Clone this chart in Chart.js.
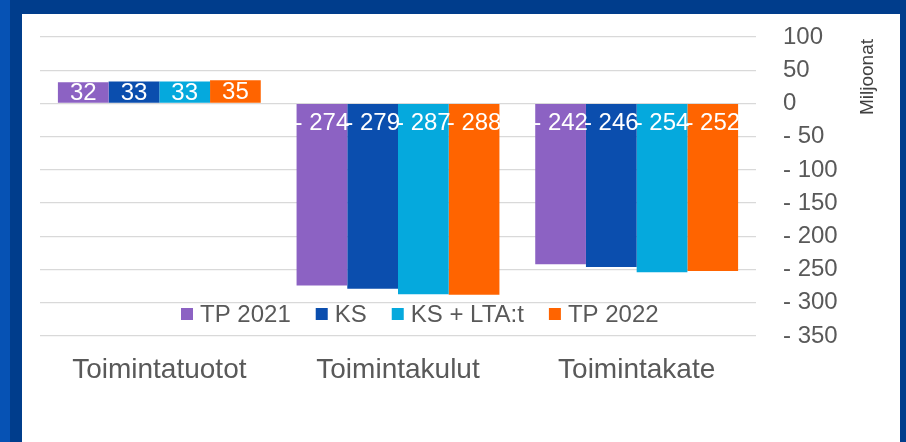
<!DOCTYPE html>
<html>
<head>
<meta charset="utf-8">
<script src="https://cdn.jsdelivr.net/npm/chart.js@4.4.0/dist/chart.umd.min.js"></script>
<style>
    body { margin: 0; width: 906px; height: 442px; background: #003d8c; position: relative; overflow: hidden; }
    #strip { position: absolute; left: 0; top: 0; width: 10px; height: 442px; background: #0652b4; }
    #panel { position: absolute; left: 22px; top: 14px; width: 878px; height: 428px; background: #ffffff; }
</style>
</head>
<body>
<div id="strip"></div>
<div id="panel"><canvas id="g_kate"></canvas></div>
<script>
// luokat ja sarjat
const categories = ['Toimintatuotot', 'Toimintakulut', 'Toimintakate'];
const seriesNames = ['TP 2021', 'KS', 'KS + LTA:t', 'TP 2022'];
const tp2021 = [32, -274, -242];
const ks = [33, -279, -246];
const ksLta = [33, -287, -254];
const tp2022 = [35, -288, -252];
const colors = ['#8c62c3', '#0b4eae', '#05a9dd', '#ff6400'];
const yTicks = { min: -350, max: 100, step: 50 };

function fmt(v) {
    // Excel tyyli: "- 274"
    return v < 0 ? '- ' + Math.abs(v) : '' + v;
}

const fontName = '"Liberation Sans", Arial, sans-serif';

// arvot palkkien sisään
const barLabels = {
    id: 'barLabels',
    afterDatasetsDraw(chart) {
        const ctx = chart.ctx;
        ctx.save();
        ctx.font = '24px ' + fontName;
        ctx.fillStyle = '#ffffff';
        ctx.textAlign = 'center';
        ctx.textBaseline = 'middle';
        chart.data.datasets.forEach(function(ds, i) {
            const meta = chart.getDatasetMeta(i);
            meta.data.forEach(function(bar, j) {
                const v = ds.data[j];
                let y;
                if (v < 0) {
                    y = bar.base + 19;
                } else {
                    y = (bar.y + bar.base) / 2 + 1;
                }
                ctx.fillText(fmt(v), bar.x, y);
            });
        });
        ctx.restore();
    }
};

// selite piirretään kaavion päälle
const overlayLegend = {
    id: 'overlayLegend',
    afterDraw(chart) {
        const ctx = chart.ctx;
        ctx.save();
        ctx.font = '24px ' + fontName;
        ctx.textBaseline = 'middle';
        ctx.textAlign = 'left';
        let x = 159;
        const y = 300;
        chart.data.datasets.forEach(function(ds) {
            ctx.fillStyle = ds.backgroundColor;
            ctx.fillRect(x, y - 6, 12, 12);
            x += 19;
            ctx.fillStyle = '#595959';
            ctx.fillText(ds.label, x, y + 1);
            x += ctx.measureText(ds.label).width + 25;
        });
        // akselin otsikko
        ctx.translate(846, 63);
        ctx.rotate(-Math.PI / 2);
        ctx.font = '19px ' + fontName;
        ctx.fillStyle = '#404040';
        ctx.textAlign = 'center';
        ctx.fillText('Miljoonat', 0, 0);
        ctx.restore();
    }
};

const seriesData = [tp2021, ks, ksLta, tp2022];
let datasets = [];
for (let i = 0; i < seriesNames.length; i++) {
    datasets.push({
        label: seriesNames[i],
        data: seriesData[i],
        backgroundColor: colors[i],
        borderWidth: 0,
        categoryPercentage: 0.85,
        barPercentage: 1.0
    });
}

const config = {
    type: 'bar',
    data: { labels: categories, datasets: datasets },
    options: {
        responsive: true,
        maintainAspectRatio: false,
        animation: false,
        layout: { padding: { left: 18, right: 0, top: 23, bottom: 0 } },
        plugins: {
            legend: { display: false },
            tooltip: { enabled: false }
        },
        scales: {
            x: {
                grid: { display: false, drawTicks: false },
                border: { display: false },
                ticks: {
                    font: { size: 28, family: fontName },
                    color: '#595959',
                    padding: 17,
                    maxRotation: 0
                },
                afterFit: function(scale) { scale.height = 106; }
            },
            y: {
                position: 'right',
                min: yTicks.min,
                max: yTicks.max,
                grid: { color: '#d9d9d9', drawTicks: false, lineWidth: 1.3 },
                border: { display: false },
                ticks: {
                    stepSize: yTicks.step,
                    autoSkip: false,
                    font: { size: 24, family: fontName },
                    color: '#595959',
                    padding: 27,
                    callback: function(v) { return fmt(v); }
                },
                afterFit: function(scale) {
                    scale.width = 144;
                    scale.paddingTop = 10;
                    scale.paddingBottom = 0;
                }
            }
        }
    },
    plugins: [barLabels, overlayLegend]
};

window.addEventListener('load', () => {
    new Chart(document.getElementById('g_kate').getContext('2d'), config);
});
</script>
</body>
</html>
